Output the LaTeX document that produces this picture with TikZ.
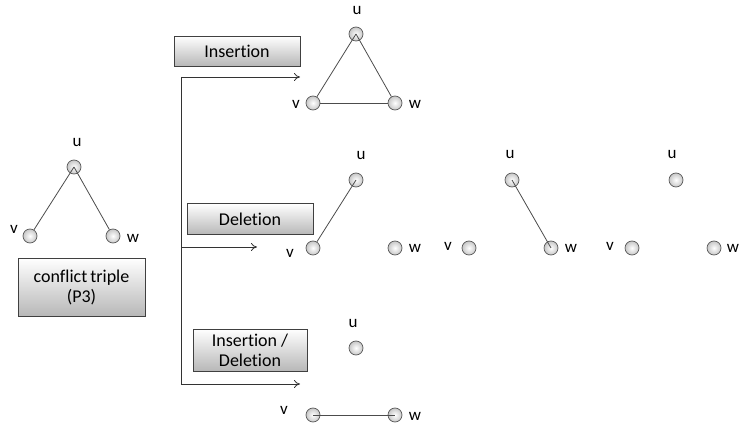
\documentclass[tikz,border=0pt]{standalone}
\usepackage{fontspec}
\setmainfont{Carlito}[Ligatures=NoCommon]
\usetikzlibrary{arrows.meta}
\begin{document}
\begin{tikzpicture}[x=1pt,y=-1pt,
  vtx/.style={circle,inner sep=0pt,minimum size=14pt,draw=black!65,line width=0.7pt,shading=radial,inner color=white,outer color=black!22},
  lbl/.style={inner sep=0pt,font=\fontsize{17}{17}\selectfont,text=black},
  opbox/.style={draw=black!75,line width=0.7pt,top color=white,bottom color=black!28,inner sep=0pt,font=\fontsize{18}{20}\selectfont,align=center,text=black},
  edge/.style={draw=black!70,line width=0.8pt},
  flow/.style={draw=black!80,line width=0.8pt},
  arr/.style={flow,-{To[length=6pt,width=8pt]}}]
\useasboundingbox (0,0) rectangle (739,430);
% left conflict triple
\node[vtx] (lu) at (74,167) {};
\node[vtx] (lv) at (30,236) {};
\node[vtx] (lw) at (113,236) {};
\draw[edge] (lu.center) -- (lv);
\draw[edge] (lu.center) -- (lw);
\node[lbl] (lul) at (77,143) {u};
\node[lbl] (lvl) at (14,229) {v};
\node[lbl] (lwl) at (133,238) {w};
\node[opbox,minimum width=127pt,minimum height=58pt] (ct) at (81.5,287) {conflict\,triple\\(P3)};
% operation boxes
\node[opbox,minimum width=126pt,minimum height=30pt] (ins) at (237,51) {Insertion};
\node[opbox,minimum width=126pt,minimum height=31pt] (del) at (250,219) {Deletion};
\node[opbox,minimum width=114pt,minimum height=42pt] (insdel) at (250,350) {Insertion /\\Deletion};
% flow lines
\coordinate (top) at (181,77);
\coordinate (bot) at (181,384);
\coordinate (mid) at (181,247);
\coordinate (a1) at (300,77);
\coordinate (a2) at (257,247);
\coordinate (a3) at (300,384);
\draw[flow] (top) -- (bot);
\draw[arr] (top) -- (a1);
\draw[arr] (mid) -- (a2);
\draw[arr] (bot) -- (a3);
% insertion result
\node[vtx] (iu) at (356,34) {};
\node[vtx] (iv) at (313,103) {};
\node[vtx] (iw) at (395,103) {};
\draw[edge] (iu.center) -- (iv);
\draw[edge] (iu.center) -- (iw);
\draw[edge] (iv) -- (iw);
\node[lbl] (iul) at (357,11) {u};
\node[lbl] (ivl) at (296,104) {v};
\node[lbl] (iwl) at (415,104) {w};
% deletion results
\node[vtx] (d1u) at (356,180) {};
\node[vtx] (d1v) at (313,248) {};
\node[vtx] (d1w) at (395,248) {};
\draw[edge] (d1u.center) -- (d1v);
\node[lbl] (d1ul) at (361,156) {u};
\node[lbl] (d1vl) at (290,253) {v};
\node[lbl] (d1wl) at (415,248) {w};
\node[vtx] (d2u) at (512,180) {};
\node[vtx] (d2v) at (469,248) {};
\node[vtx] (d2w) at (551,248) {};
\draw[edge] (d2u.center) -- (d2w.center);
\node[lbl] (d2ul) at (510,155) {u};
\node[lbl] (d2vl) at (448,246) {v};
\node[lbl] (d2wl) at (571,248) {w};
\node[vtx] (d3u) at (676,180) {};
\node[vtx] (d3v) at (632,248) {};
\node[vtx] (d3w) at (714,248) {};
\node[lbl] (d3ul) at (672,155) {u};
\node[lbl] (d3vl) at (610,246) {v};
\node[lbl] (d3wl) at (733,248) {w};
% insertion/deletion result
\node[vtx] (xu) at (356,348) {};
\node[vtx] (xv) at (313,415) {};
\node[vtx] (xw) at (395,415) {};
\draw[edge] (xv.center) -- (xw.center);
\node[lbl] (xul) at (353,324) {u};
\node[lbl] (xvl) at (284,410) {v};
\node[lbl] (xwl) at (415,416) {w};
\end{tikzpicture}
\end{document}
